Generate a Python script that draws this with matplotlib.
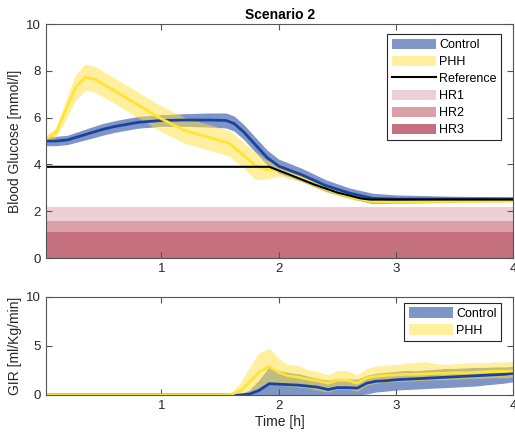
import numpy as np
import matplotlib
matplotlib.use('Agg')
import matplotlib.pyplot as plt
from matplotlib.patches import Patch
from matplotlib.lines import Line2D

plt.rcParams['font.family'] = ['Liberation Sans', 'DejaVu Sans']

# ---- blood glucose panel ----
ctrl_t = [0, 0.1, 0.2, 0.3, 0.4, 0.5, 0.6, 0.8, 1.0, 1.2, 1.4, 1.55, 1.62, 1.7, 1.8, 1.9, 2.0, 2.2, 2.4, 2.6, 2.8, 3.0, 3.5, 4.0]
ctrl_bg = [5.0, 5.0, 5.05, 5.2, 5.35, 5.5, 5.62, 5.8, 5.88, 5.9, 5.9, 5.88, 5.75, 5.4, 4.85, 4.3, 3.93, 3.55, 3.1, 2.78, 2.55, 2.52, 2.52, 2.52]
ctrl_bg_sd = [0.2, 0.2, 0.2, 0.22, 0.24, 0.25, 0.25, 0.25, 0.25, 0.27, 0.3, 0.32, 0.32, 0.32, 0.32, 0.32, 0.3, 0.28, 0.25, 0.22, 0.22, 0.18, 0.12, 0.1]

phh_t = [0, 0.1, 0.2, 0.27, 0.35, 0.43, 0.6, 0.8, 1.0, 1.2, 1.4, 1.58, 1.7, 1.8, 1.9, 2.0, 2.2, 2.4, 2.6, 2.8, 3.0, 3.5, 4.0]
phh_bg = [5.05, 5.35, 6.5, 7.3, 7.72, 7.65, 7.15, 6.55, 5.95, 5.45, 5.17, 4.9, 4.4, 3.95, 3.78, 3.75, 3.4, 2.95, 2.62, 2.42, 2.4, 2.43, 2.45]
phh_bg_sd = [0.15, 0.2, 0.45, 0.55, 0.57, 0.55, 0.55, 0.55, 0.55, 0.55, 0.55, 0.55, 0.55, 0.6, 0.4, 0.25, 0.15, 0.12, 0.1, 0.08, 0.07, 0.07, 0.07]

ref_t = [0, 1.92, 2.1, 2.3, 2.5, 2.7, 2.78, 4.0]
ref_bg = [3.9, 3.9, 3.55, 3.15, 2.8, 2.55, 2.5, 2.5]

hr_levels = [2.2, 1.6, 1.1]
hr_names = ['HR1', 'HR2', 'HR3']

# ---- GIR panel ----
gir_t = [0, 1.58, 1.67, 1.75, 1.83, 1.92, 2.0, 2.08, 2.17, 2.25, 2.33, 2.42, 2.5, 2.58, 2.67, 2.75,
         2.83, 2.92, 3.0, 3.08, 3.17, 3.25, 3.33, 3.42, 3.5, 3.58, 3.67, 3.75, 3.83, 3.92, 4.0]
phh_gir = [0, 0, 0.4, 1.3, 2.3, 2.9, 2.3, 1.95, 1.8, 1.6, 1.45, 1.2, 1.5, 1.5, 1.2, 1.75,
           1.9, 2.0, 2.05, 2.1, 2.1, 2.15, 2.2, 2.2, 2.25, 2.25, 2.3, 2.35, 2.4, 2.4, 2.45]
phh_gir_hi = [0, 0.05, 1.2, 2.8, 4.3, 4.75, 3.7, 3.1, 3.0, 2.55, 2.4, 2.05, 2.5, 2.5, 2.05, 2.7,
              2.95, 3.05, 3.1, 3.2, 3.3, 3.4, 3.2, 3.1, 3.2, 3.25, 3.3, 3.3, 3.35, 3.35, 3.4]
phh_gir_lo = [0, 0, 0, 0.2, 0.7, 1.2, 1.0, 0.9, 0.8, 0.7, 0.5, 0.3, 0.6, 0.6, 0.4, 1.0,
              1.2, 1.3, 1.35, 1.4, 1.45, 1.5, 1.55, 1.55, 1.6, 1.65, 1.7, 1.7, 1.75, 1.75, 1.8]
ctrl_gir = [0, 0, 0, 0.1, 0.45, 1.15, 1.1, 1.05, 1.0, 0.9, 0.8, 0.55, 0.75, 0.75, 0.7, 1.2,
            1.4, 1.45, 1.55, 1.6, 1.65, 1.7, 1.75, 1.8, 1.85, 1.9, 1.95, 2.0, 2.05, 2.1, 2.2]
ctrl_gir_hi = [0, 0, 0.05, 0.5, 1.5, 2.9, 2.5, 2.3, 2.15, 1.9, 1.7, 1.5, 1.7, 1.65, 1.6, 2.0,
               2.2, 2.3, 2.4, 2.5, 2.45, 2.55, 2.6, 2.7, 2.7, 2.75, 2.8, 2.8, 2.85, 2.85, 2.9]
ctrl_gir_lo = [0, 0, 0, 0, 0, 0, 0, 0, 0, 0, 0, 0, 0, 0, 0, 0.1,
               0.3, 0.4, 0.5, 0.55, 0.6, 0.65, 0.7, 0.75, 0.8, 0.85, 0.9, 1.0, 1.1, 1.2, 1.35]

blue_fill = '#002d91'
yellow_fill = '#ffe141'
blue_line = '#1a43a0'
yellow_line = '#ffe436'
hr_colors = ['#edd0d6', '#dba0aa', '#c5707e']
axis_col = '#555555'
text_col = '#262626'


def style_axes(ax):
    for s in ax.spines.values():
        s.set_color(axis_col)
        s.set_linewidth(0.8)
    ax.tick_params(direction='in', top=True, right=True, length=4, width=0.8,
                   colors=axis_col, labelcolor=text_col, labelsize=9.5)


def make_legend(ax, handles, labels, anchor):
    leg = ax.legend(handles, labels, loc='upper right', bbox_to_anchor=anchor,
                    fontsize=9, handlelength=3.5, handleheight=0.9, labelspacing=0.36,
                    handletextpad=0.3, borderpad=0.35, borderaxespad=0, frameon=True,
                    fancybox=False, edgecolor=text_col, framealpha=1)
    leg.get_frame().set_linewidth(0.8)
    return leg


fig = plt.figure(figsize=(5.15, 4.33), dpi=100)
ax1 = fig.add_axes([0.0893, 0.404, 0.9075, 0.5404])
ax2 = fig.add_axes([0.0893, 0.0878, 0.9075, 0.227])

# top panel
for lvl, col in zip(hr_levels, hr_colors):
    ax1.fill_between([0, 4], 0, lvl, color=col, lw=0)
c = np.array(ctrl_bg)
cs = np.array(ctrl_bg_sd)
p = np.array(phh_bg)
ps = np.array(phh_bg_sd)
ax1.fill_between(ctrl_t, c - cs, c + cs, color=blue_fill, alpha=0.5, lw=0)
ax1.fill_between(phh_t, p - ps, p + ps, color=yellow_fill, alpha=0.5, lw=0)
ax1.plot(ctrl_t, ctrl_bg, color=blue_line, lw=2)
ax1.plot(phh_t, phh_bg, color=yellow_line, lw=2)
ax1.plot(ref_t, ref_bg, color='black', lw=1.5)
ax1.set_xlim(1 / 60, 4)
ax1.set_ylim(0, 10)
ax1.set_xticks([1, 2, 3, 4])
ax1.set_yticks([0, 2, 4, 6, 8, 10])
ax1.set_ylabel('Blood Glucose [mmol/l]', fontsize=10, color=text_col, labelpad=3)
ax1.set_title('Scenario 2', fontsize=10, fontweight='bold', color='black', pad=4)
style_axes(ax1)

handles = [Patch(facecolor=blue_fill, alpha=0.5, edgecolor='none'),
           Patch(facecolor=yellow_fill, alpha=0.5, edgecolor='none'),
           Line2D([], [], color='black', lw=1.5)]
handles += [Patch(facecolor=col, edgecolor='none') for col in hr_colors]
labels = ['Control', 'PHH', 'Reference'] + hr_names
make_legend(ax1, handles, labels, (0.974, 0.957))

# bottom panel
ax2.fill_between(gir_t, ctrl_gir_lo, ctrl_gir_hi, color=blue_fill, alpha=0.5, lw=0)
ax2.fill_between(gir_t, phh_gir_lo, phh_gir_hi, color=yellow_fill, alpha=0.5, lw=0)
ax2.plot(gir_t, ctrl_gir, color=blue_line, lw=2)
ax2.plot(gir_t, phh_gir, color=yellow_line, lw=2)
ax2.set_xlim(1 / 60, 4)
ax2.set_ylim(0, 10)
ax2.set_xticks([1, 2, 3, 4])
ax2.set_yticks([0, 5, 10])
ax2.set_xlabel('Time [h]', fontsize=10, color=text_col, labelpad=2)
ax2.set_ylabel('GIR [ml/Kg/min]', fontsize=10, color=text_col, labelpad=3)
style_axes(ax2)

handles2 = [Patch(facecolor=blue_fill, alpha=0.5, edgecolor='none'),
            Patch(facecolor=yellow_fill, alpha=0.5, edgecolor='none')]
make_legend(ax2, handles2, ['Control', 'PHH'], (0.974, 0.936))

fig.savefig('out.png', dpi=100)
